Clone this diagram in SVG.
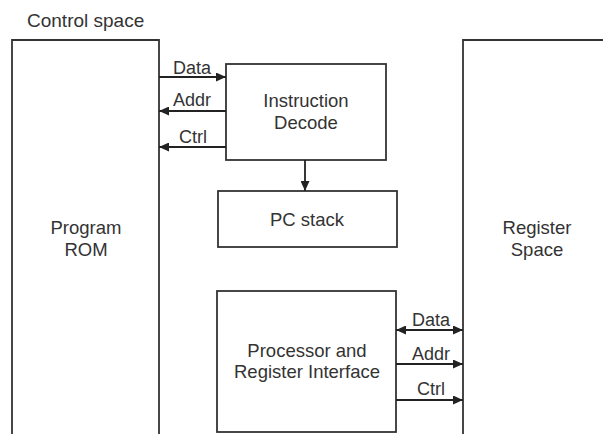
<svg xmlns="http://www.w3.org/2000/svg" width="603" height="434" viewBox="0 0 603 434">
<defs>
<style>
.box{fill:none;stroke:#333;stroke-width:1.8}
.ln{fill:none;stroke:#222;stroke-width:1.8}
text{font-family:"Liberation Sans",Arial,sans-serif;font-size:18.5px;fill:#333;text-anchor:middle}
.lbl{font-size:18px}
</style>
<marker id="ah" viewBox="0 0 10 10" refX="10" refY="5" markerWidth="10" markerHeight="9" markerUnits="userSpaceOnUse" orient="auto-start-reverse" preserveAspectRatio="none">
<path d="M0,0 L10,5 L0,10 z" fill="#222"/>
</marker>
</defs>
<rect width="603" height="434" fill="#fff"/>
<text x="27" y="27" style="text-anchor:start;font-size:19px">Control space</text>
<g id="program-rom">
<path class="box" d="M12,434 V40 H159 V434"/>
<text x="86" y="234">Program</text>
<text x="86" y="256">ROM</text>
</g>
<g id="register-space">
<path class="box" d="M463,434 V40 H603"/>
<text x="537" y="234">Register</text>
<text x="537" y="256">Space</text>
</g>
<g id="instruction-decode">
<rect class="box" x="226" y="64" width="160" height="96"/>
<text x="306" y="107">Instruction</text>
<text x="306" y="129">Decode</text>
</g>
<g id="pc-stack">
<rect class="box" x="218" y="191" width="179" height="56"/>
<text x="307" y="226">PC stack</text>
</g>
<g id="processor">
<rect class="box" x="217" y="291" width="179" height="141"/>
<text x="307" y="357">Processor and</text>
<text x="307" y="378">Register Interface</text>
</g>
<g id="connectors">
<line class="ln" x1="159" y1="77" x2="226" y2="77" marker-end="url(#ah)"/>
<line class="ln" x1="226" y1="111" x2="159" y2="111" marker-end="url(#ah)"/>
<line class="ln" x1="226" y1="147" x2="159" y2="147" marker-end="url(#ah)"/>
<line class="ln" x1="305" y1="160" x2="305" y2="191" marker-end="url(#ah)"/>
<line class="ln" x1="396" y1="330" x2="463" y2="330" marker-start="url(#ah)" marker-end="url(#ah)"/>
<line class="ln" x1="396" y1="364" x2="463" y2="364" marker-end="url(#ah)"/>
<line class="ln" x1="396" y1="400" x2="463" y2="400" marker-end="url(#ah)"/>
<text class="lbl" x="192" y="74">Data</text>
<text class="lbl" x="192" y="106">Addr</text>
<text class="lbl" x="193" y="143">Ctrl</text>
<text class="lbl" x="431" y="326">Data</text>
<text class="lbl" x="431" y="360">Addr</text>
<text class="lbl" x="431" y="395">Ctrl</text>
</g>
</svg>
